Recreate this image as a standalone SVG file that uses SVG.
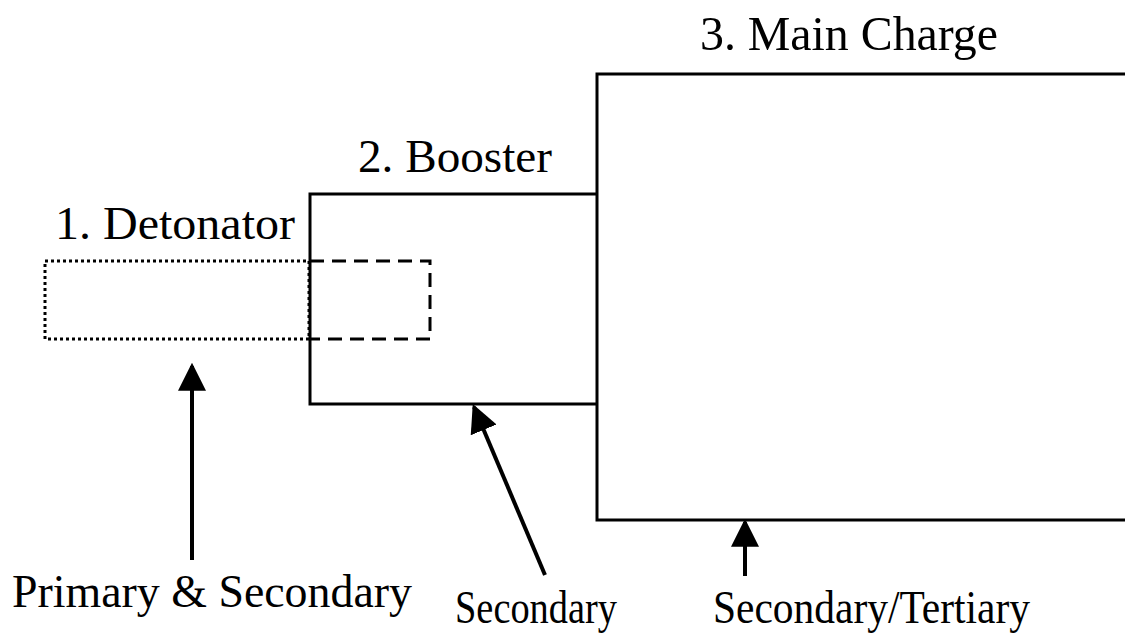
<svg xmlns="http://www.w3.org/2000/svg" width="1125" height="635" viewBox="0 0 1125 635">
<defs>
<style>
text{font-family:"Liberation Serif","Times New Roman",serif;font-size:46px;fill:#000}
.solid{fill:none;stroke:#000;stroke-width:3}
.arrow{stroke:#000;stroke-width:4;fill:none}
</style>
<marker id="ah" markerWidth="7" markerHeight="7" refX="6.2" refY="3.5" orient="auto" markerUnits="strokeWidth">
<path d="M0,0 L7,3.5 L0,7 Z" fill="#000"/>
</marker>
</defs>
<rect width="1125" height="635" fill="#fff"/>
<g id="main-charge">
<path class="solid" d="M1125,74 H597 V520 H1125"/>
<text x="700" y="50" style="font-size:49px" textLength="298" lengthAdjust="spacingAndGlyphs">3. Main Charge</text>
</g>
<g id="booster">
<path class="solid" d="M597,194 H310 V404 H597"/>
<text x="358" y="172" textLength="194" lengthAdjust="spacingAndGlyphs">2. Booster</text>
</g>
<g id="detonator">
<rect x="45" y="261" width="264" height="78" fill="none" stroke="#000" stroke-width="3" stroke-dasharray="3,3"/>
<path d="M310,261 H430 V339 H310" fill="none" stroke="#000" stroke-width="3" stroke-dasharray="14,8"/>
<text x="55" y="239" textLength="240" lengthAdjust="spacingAndGlyphs">1. Detonator</text>
</g>
<g id="labels">
<text x="12" y="607" textLength="400" lengthAdjust="spacingAndGlyphs">Primary &amp; Secondary</text>
<text x="455" y="623" textLength="162" lengthAdjust="spacingAndGlyphs">Secondary</text>
<text x="713" y="623" textLength="317" lengthAdjust="spacingAndGlyphs">Secondary/Tertiary</text>
</g>
<g id="connectors">
<line class="arrow" x1="192" y1="560" x2="192" y2="366" marker-end="url(#ah)"/>
<line class="arrow" x1="545" y1="575" x2="474" y2="407" marker-end="url(#ah)"/>
<line class="arrow" x1="745" y1="576" x2="745" y2="522" marker-end="url(#ah)"/>
</g>
</svg>
